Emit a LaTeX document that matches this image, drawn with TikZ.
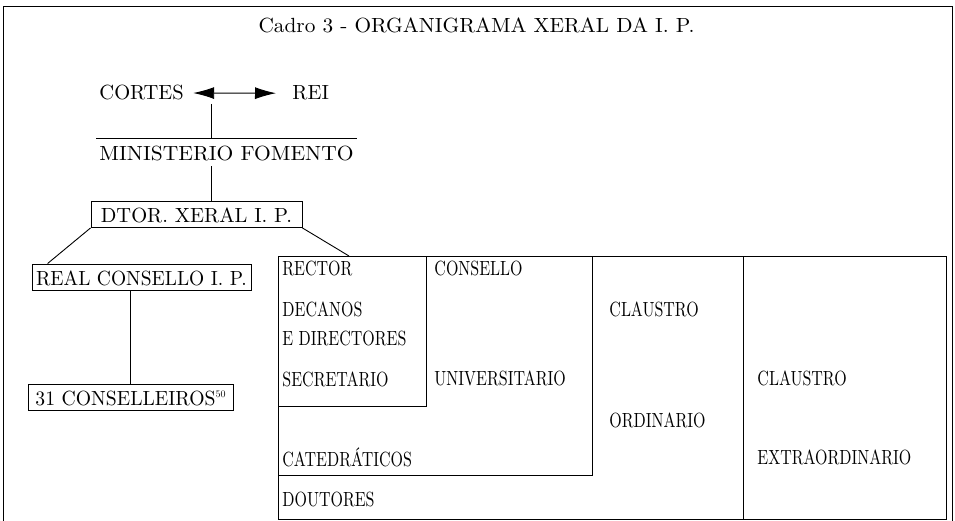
\documentclass[tikz,border=0pt]{standalone}
\usepackage{graphicx}
\usepackage{fontspec}
\setmainfont{lmroman10-regular.otf}
\usetikzlibrary{arrows.meta,positioning}
\newcommand{\cell}[1]{\scalebox{0.78}[1]{#1}}

\begin{document}
\begin{tikzpicture}[x=1pt,y=-1pt,line width=0.9pt,
	font=\fontsize{20.5}{24}\selectfont,
	txt/.style={inner sep=0pt,anchor=base west},
	box/.style={draw,inner sep=0pt,text height=21pt,text depth=5pt},
	area/.style={draw,inner sep=0pt,anchor=north west}]
	\useasboundingbox (0,0) rectangle (955,521);
	\draw[line width=1pt] (3,521) -- (3,7) -- (952,7) -- (952,521);
	\node[anchor=base,inner sep=0pt] (title) at (476.5,33) {\scalebox{1.04}[1]{Cadro 3 - ORGANIGRAMA XERAL DA I. P.}};
	% top of the chart
	\node[txt] (cortes) at (99,100) {CORTES};
	\node[txt] (rei) at (292,100) {REI};
	\draw[{Latex[length=21pt,width=12pt]}-{Latex[length=21pt,width=12pt]},shorten <=9pt,shorten >=16pt] (cortes.east) -- (rei.west);
	\node[anchor=base,inner xsep=2.5pt,inner ysep=0pt,text height=22pt,text depth=5pt] (min) at (226.5,161) {\scalebox{1.05}[1]{MINISTERIO FOMENTO}};
	\draw (min.north west) -- (min.north east);
	\coordinate (c1) at (211,104);
	\draw (c1) -- (c1 |- min.north);
	\node[box,minimum width=211pt] (dtor) at (196.5,214.5) {DTOR. XERAL I. P.};
	\draw (min.south -| c1) -- (dtor.north -| c1);
	\node[box,minimum width=219pt] (real) at (141.5,277) {\scalebox{0.95}[1]{REAL CONSELLO I. P.}};
	\node[box,minimum width=205pt] (cons) at (130.5,397) {\scalebox{0.96}[1]{31 CONSELLEIROS}\raisebox{8pt}{\fontsize{10}{10}\selectfont 50}};
	\draw (dtor.south west) -- ([xshift=16pt]real.north west);
	\draw (cons.north) -- (cons.north |- real.south);
	% university boxes
	\node[area,minimum width=465pt,minimum height=263pt] (ordbox) at (278,256) {};
	\node[area,minimum width=203pt,minimum height=263pt] (extbox) at (743,256) {};
	\node[area,minimum width=314pt,minimum height=219pt] (conbox) at (278,256) {};
	\node[area,minimum width=148pt,minimum height=150pt] (recbox) at (278,256) {};
	\draw (dtor.south east) -- ([xshift=71pt]ordbox.north west);
	\node[txt] (rector) at (282,276) {\cell{RECTOR}};
	\node[txt] (decanos) at (282,316) {\cell{DECANOS}};
	\node[txt] (directores) at (282,345) {\cell{E DIRECTORES}};
	\node[txt] (secretario) at (282,386) {\cell{SECRETARIO}};
	\node[txt] (catedr) at (282,466) {\cell{CATEDRÁTICOS}};
	\node[txt] (doutores) at (282,506) {\cell{DOUTORES}};
	\node[txt] (consello) at (434,276) {\cell{CONSELLO}};
	\node[txt] (univ) at (434,385) {\cell{UNIVERSITARIO}};
	\node[txt] (claus1) at (609,316) {\cell{CLAUSTRO}};
	\node[txt] (ordin) at (609,427) {\cell{ORDINARIO}};
	\node[txt] (claus2) at (757,385) {\cell{CLAUSTRO}};
	\node[txt] (extra) at (757,464) {\cell{EXTRAORDINARIO}};
\end{tikzpicture}
\end{document}
